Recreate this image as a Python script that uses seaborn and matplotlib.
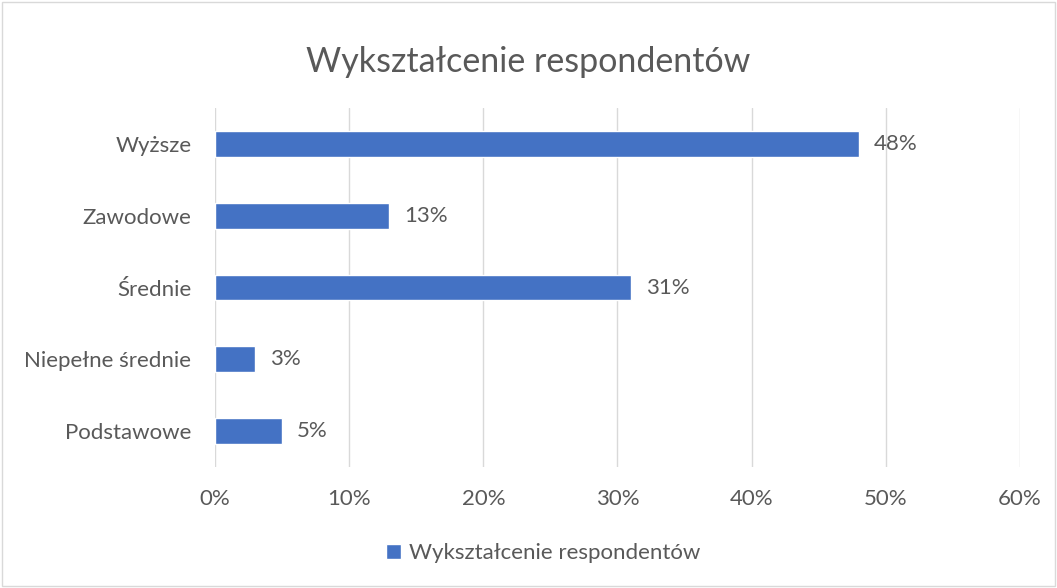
import seaborn as sns
import matplotlib.pyplot as plt
import pandas as pd
from matplotlib.patches import Rectangle
from matplotlib.ticker import FuncFormatter

categories = ["Wyższe", "Zawodowe", "Średnie", "Niepełne średnie", "Podstawowe"]
values = [48, 13, 31, 3, 5]
series_name = "Wykształcenie respondentów"

df = pd.DataFrame({"kategoria": categories, "procent": values})

sns.set_theme(style="white")
plt.rcParams['font.family'] = ['Lato', 'DejaVu Sans']
text_color = "#595959"
grid_color = "#d9d9d9"
bar_color = "#4472C4"

fig = plt.figure(figsize=(10.57, 5.88), dpi=100)
ax = fig.add_axes([0.2034, 0.2058, 0.7616, 0.6105])

sns.barplot(data=df, x="procent", y="kategoria", orient="h", color=bar_color,
            width=0.36, saturation=1, ax=ax, label=series_name)
if ax.get_legend() is not None:
    ax.get_legend().remove()

ax.set_xlim(0, 60)
ax.set_xticks(range(0, 61, 10))
ax.xaxis.set_major_formatter(FuncFormatter(lambda v, p: f"{int(v)}%"))
ax.grid(axis="x", color=grid_color, linewidth=1)
ax.set_axisbelow(True)
for s in ax.spines.values():
    s.set_visible(False)
ax.tick_params(axis="both", length=0, labelsize=16, colors=text_color)
ax.tick_params(axis="y", pad=17)
ax.tick_params(axis="x", pad=16)
ax.set_xlabel("")
ax.set_ylabel("")

for i, v in enumerate(values):
    ax.text(v + 1.1, i, f"{v}%", va="center", ha="left", fontsize=16, color=text_color)

fig.suptitle(series_name, y=0.922, fontsize=24.5, color=text_color)

handles, labels = ax.get_legend_handles_labels()
leg = fig.legend(handles, labels, loc="center", bbox_to_anchor=(0.514, 0.059), frameon=False,
                 fontsize=16, handlelength=0.7, handleheight=0.7, handletextpad=0.35)
for t in leg.get_texts():
    t.set_color(text_color)

fig.patches.append(Rectangle((0.002, 0.003), 0.996, 0.994, transform=fig.transFigure,
                             fill=False, edgecolor=grid_color, linewidth=1))

fig.savefig("out.png", dpi=100)
